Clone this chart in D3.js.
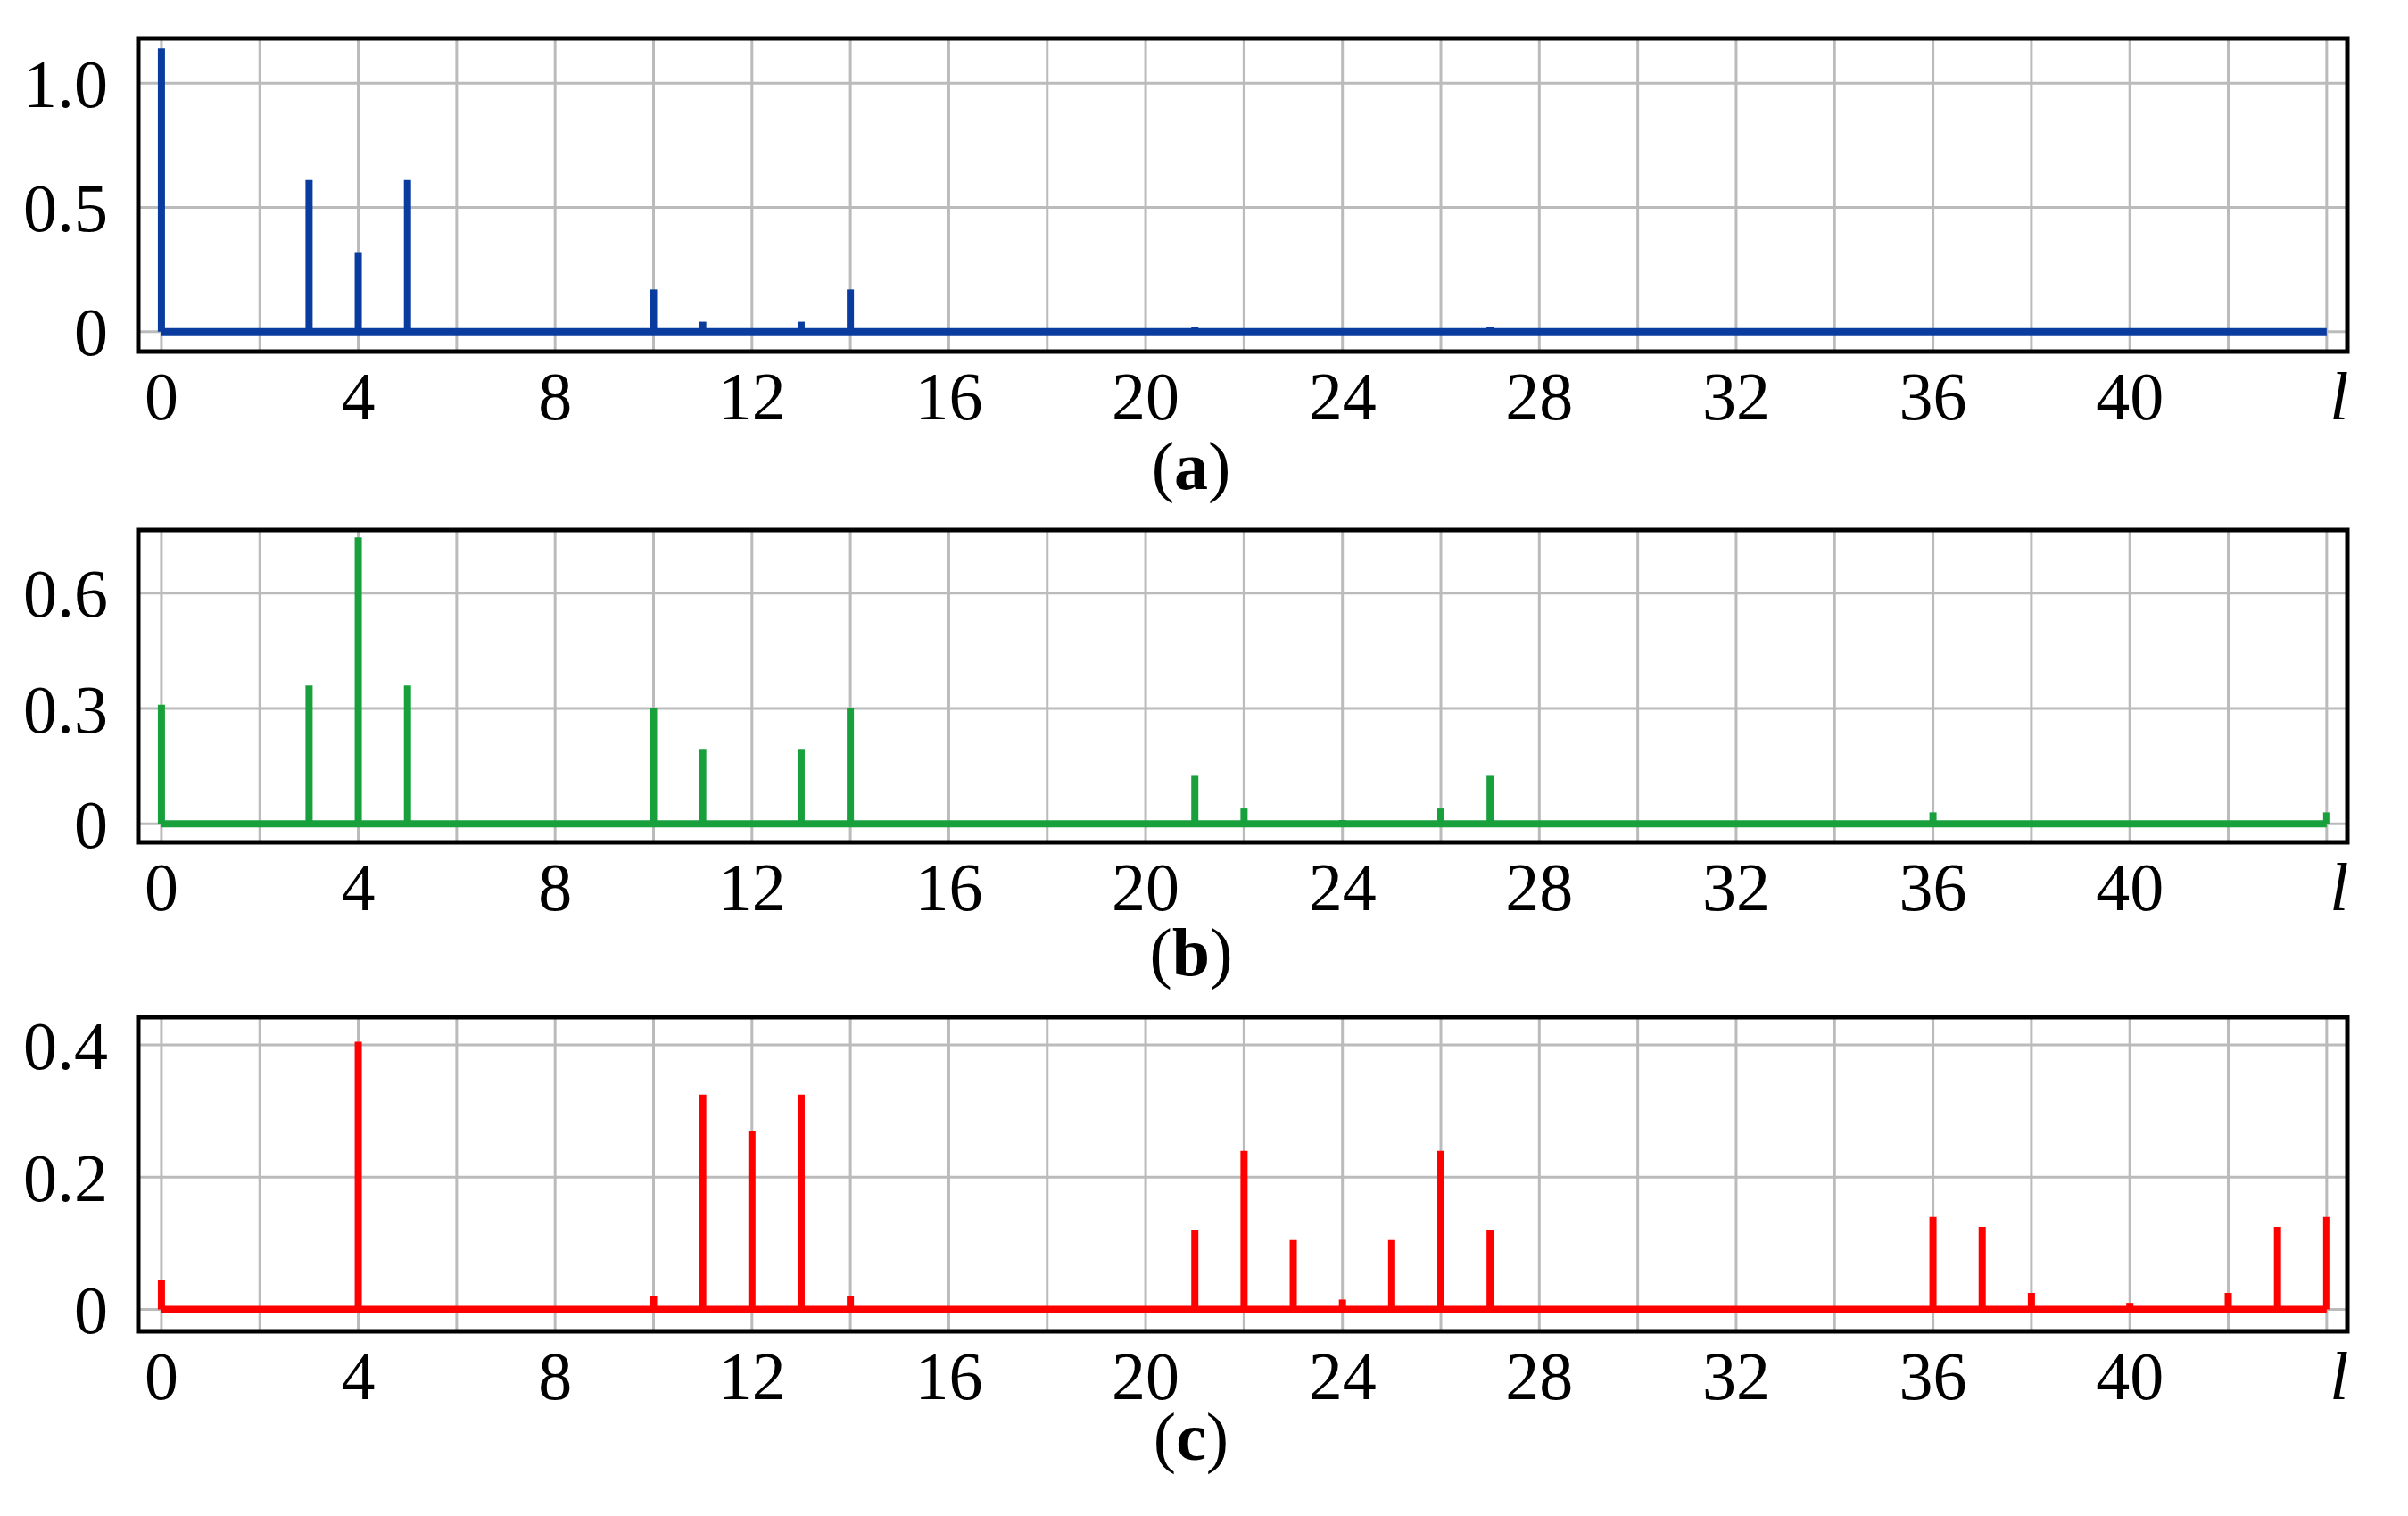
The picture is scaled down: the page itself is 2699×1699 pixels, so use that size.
<!DOCTYPE html>
<html><head><meta charset="utf-8">
<script src="https://cdn.jsdelivr.net/npm/d3@7"></script>
<style>body{margin:0;background:#fff}svg{display:block}</style></head>
<body><svg id="c" width="2699" height="1699"></svg>
<script>
const xTicks=[0,4,8,12,16,20,24,28,32,36,40];
const aL=[0,3,4,5,10,11,13,14,21,27];
const aV=[1.14,0.61,0.32,0.61,0.17,0.04,0.04,0.17,0.02,0.02];
const bL=[0,3,4,5,10,11,13,14,21,22,24,26,27,36,44];
const bV=[0.31,0.36,0.745,0.36,0.30,0.195,0.195,0.30,0.125,0.04,0.01,0.04,0.125,0.03,0.03];
const cL=[0,4,10,11,12,13,14,21,22,23,24,25,26,27,36,37,38,40,42,43,44];
const cV=[0.045,0.405,0.02,0.325,0.27,0.325,0.02,0.12,0.24,0.105,0.015,0.105,0.24,0.12,0.14,0.125,0.025,0.01,0.025,0.125,0.14];
const aY=[0,0.5,1.0], bY=[0,0.3,0.6], cY=[0,0.2,0.4];
const panels=[
 {L:aL,V:aV,yt:aY,dom:[-0.08,1.18],top:43,bot:394,col:"#0a3ca0",cap:"a",capY:548},
 {L:bL,V:bV,yt:bY,dom:[-0.048,0.764],top:594,bot:944,col:"#18a03c",cap:"b",capY:1093},
 {L:cL,V:cV,yt:cY,dom:[-0.033,0.442],top:1140,bot:1492,col:"#ff0000",cap:"c",capY:1636}
];
const svg=d3.select("#c");
const x=d3.scaleLinear().domain([-0.47,44.42]).range([155,2631]);
const font="'Liberation Serif','Times New Roman',serif";
panels.forEach(p=>{
 const y=d3.scaleLinear().domain(p.dom).range([p.bot,p.top]);
 const g=svg.append("g");
 g.selectAll(".vg").data(d3.range(0,45,2)).join("line")
  .attr("x1",d=>x(d)).attr("x2",d=>x(d)).attr("y1",p.top).attr("y2",p.bot)
  .attr("stroke","#bbb").attr("stroke-width",3);
 g.selectAll(".hg").data(p.yt).join("line")
  .attr("x1",x.range()[0]).attr("x2",x.range()[1]).attr("y1",d=>y(d)).attr("y2",d=>y(d))
  .attr("stroke","#bbb").attr("stroke-width",3);
 g.append("line").attr("x1",x(0)).attr("x2",x(44)).attr("y1",y(0)).attr("y2",y(0))
  .attr("stroke",p.col).attr("stroke-width",8);
 g.selectAll(".st").data(p.L).join("line")
  .attr("x1",d=>x(d)).attr("x2",d=>x(d)).attr("y1",y(0)).attr("y2",(d,i)=>y(p.V[i]))
  .attr("stroke",p.col).attr("stroke-width",8);
 g.append("rect").attr("x",155).attr("y",p.top).attr("width",2631-155).attr("height",p.bot-p.top)
  .attr("fill","none").attr("stroke","#000").attr("stroke-width",5);
 g.selectAll(".yl").data(p.yt).join("text")
  .attr("x",121).attr("y",d=>y(d)).attr("dy","0.35em").attr("text-anchor","end")
  .attr("font-family",font).attr("font-size",76).text(d=>d===0?"0":d.toFixed(1));
 g.selectAll(".xl").data(xTicks).join("text")
  .attr("x",d=>x(d)).attr("y",p.bot+76).attr("text-anchor","middle")
  .attr("font-family",font).attr("font-size",76).text(d=>d);
 g.append("text").attr("x",x(44)+14).attr("y",p.bot+76).attr("text-anchor","middle")
  .attr("font-family",font).attr("font-size",76).attr("font-style","italic").text("l");
 const t=g.append("text").attr("x",1335).attr("y",p.capY).attr("text-anchor","middle")
  .attr("font-family",font).attr("font-size",76);
 t.append("tspan").text("(");
 t.append("tspan").attr("font-weight","bold").text(p.cap);
 t.append("tspan").text(")");
});
</script></body></html>
